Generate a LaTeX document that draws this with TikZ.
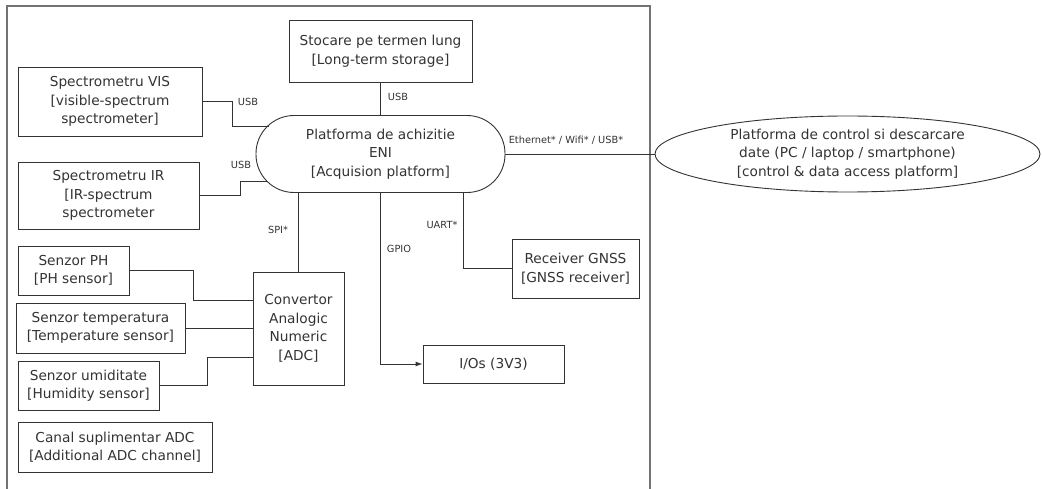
\documentclass[tikz,border=0pt]{standalone}
\usepackage{fontspec}
\setmainfont{DejaVu Sans}
\usetikzlibrary{shapes.geometric,arrows.meta}
\begin{document}
\begin{tikzpicture}[x=1pt,y=-1pt,
  ln/.style={draw=black!80,line width=0.9pt},
  box/.style={ln,rectangle,inner sep=0pt,align=center,text=black!80,font=\fontsize{13.7}{18.5}\selectfont},
  lbl/.style={inner sep=0pt,text=black!80,font=\fontsize{9.8}{10}\selectfont}]
\useasboundingbox (0,0) rectangle (1042,489);
% outer frame
\draw[draw=black!55,line width=1.3pt] (7,489) -- (7,6) -- (650,6) -- (650,489);
% nodes
\node[box,minimum width=183pt,minimum height=62pt] (stor) at (380.5,51) {Stocare pe termen lung\\{[Long-term storage]}};
\node[box,minimum width=184pt,minimum height=69pt] (vis) at (110,101.5) {Spectrometru VIS\\{[visible-spectrum}\\spectrometer{]}};
\node[box,minimum width=181pt,minimum height=67pt] (ir) at (108.5,195.5) {Spectrometru IR\\{[IR-spectrum}\\spectrometer};
\node[box,rounded corners=38pt,minimum width=249pt,minimum height=77pt] (eni) at (380.5,154) {Platforma de achizitie\\ENI\\{[Acquision platform]}};
\node[box,ellipse,minimum width=385pt,minimum height=76pt] (ctrl) at (847.5,154) {Platforma de control si descarcare\\date (PC / laptop / smartphone)\\{[control \& data access platform]}};
\node[box,minimum width=111pt,minimum height=49pt] (ph) at (73.5,270.5) {Senzor PH\\{[PH sensor]}};
\node[box,minimum width=169pt,minimum height=50pt] (temp) at (100.5,328) {Senzor temperatura\\{[Temperature sensor]}};
\node[box,minimum width=141pt,minimum height=49pt] (umid) at (88.5,385.5) {Senzor umiditate\\{[Humidity sensor]}};
\node[box,minimum width=194pt,minimum height=50pt] (canal) at (115,447) {Canal suplimentar ADC\\{[Additional ADC channel]}};
\node[box,minimum width=91pt,minimum height=113pt] (adc) at (298.5,328.5) {Convertor\\Analogic\\Numeric\\{[ADC]}};
\node[box,minimum width=127pt,minimum height=59pt] (gnss) at (575.5,268.5) {Receiver GNSS\\{[GNSS receiver]}};
\node[box,minimum width=141pt,minimum height=38pt] (io) at (493.5,364) {I/Os (3V3)};
% coordinates on the rounded border of eni
\coordinate (eniA) at (268.6,126);
\coordinate (eniB) at (266.6,181);
\coordinate (eniU) at (463,192.5);
% connectors
\draw[ln] (vis.east) -- (232,101.5) |- (eniA);
\draw[ln] (ir.east) -- (240,195.5) |- (eniB);
\draw[ln] (stor.south) -- (stor.south |- eni.north);
\draw[ln] (eni.east) -- (eni.east -| ctrl.west);
\draw[ln] (adc.north) -- (adc.north |- eni.south);
\draw[ln,-{Latex[length=7pt,width=5pt]}] (eni.south) |- (io.west);
\draw[ln] (eniU) |- (gnss.west);
\draw[ln] (ph.east) -- (193,270.5) |- (adc.west |- 0,300);
\draw[ln] (temp.east) -- (temp.east -| adc.west);
\draw[ln] (umid.east) -- (207,385.5) |- (adc.west |- 0,357);
% labels
\node[lbl] (l1) at (248,102) {USB};
\node[lbl] (l2) at (241,165) {USB};
\node[lbl] (l3) at (398,97) {USB};
\node[lbl] (l4) at (566,140) {Ethernet* / Wifi* / USB*};
\node[lbl] (l5) at (278,230) {SPI*};
\node[lbl] (l6) at (399,249) {GPIO};
\node[lbl] (l7) at (442,225) {UART*};
\end{tikzpicture}
\end{document}
